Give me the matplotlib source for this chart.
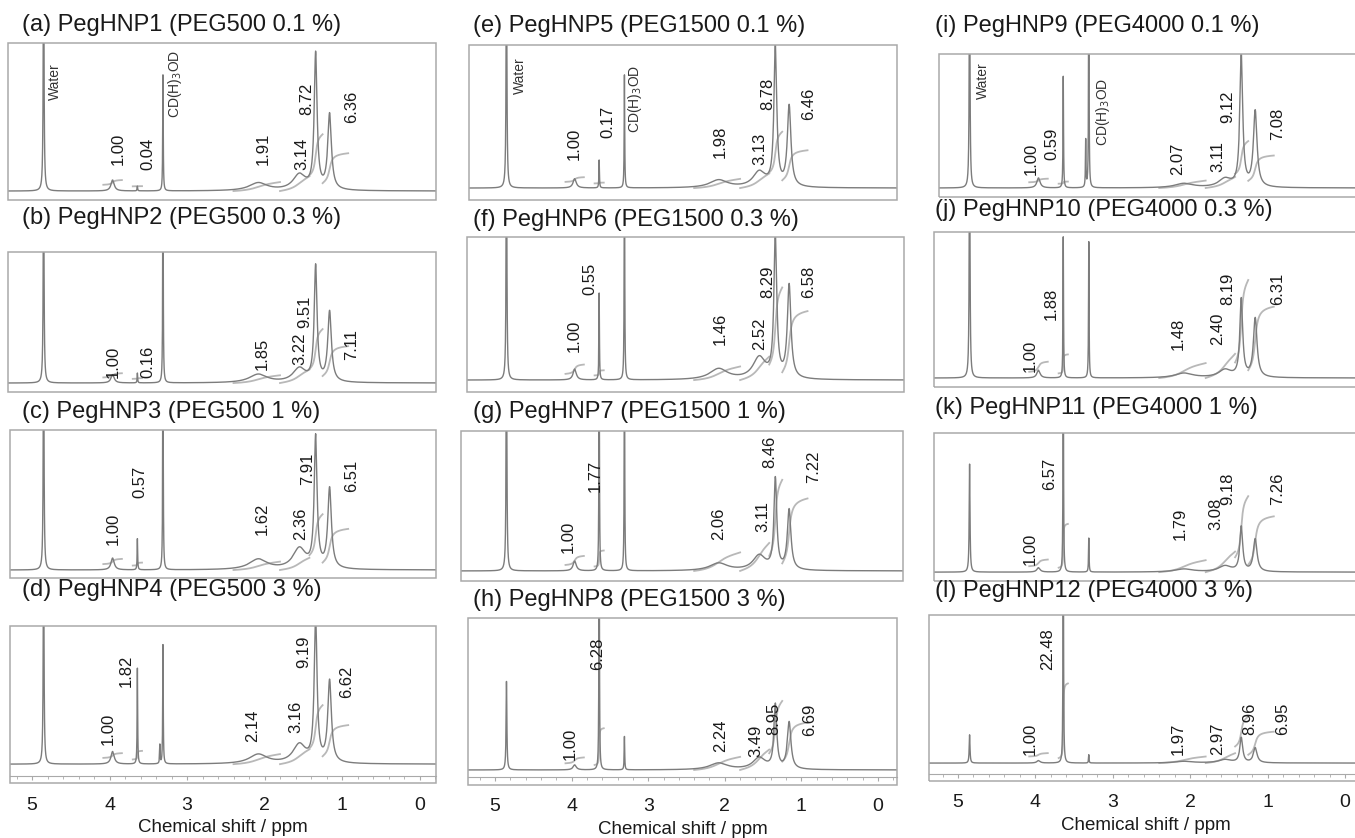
import numpy as np
import matplotlib.pyplot as plt
from matplotlib.patches import Rectangle
from matplotlib.ticker import MultipleLocator

plt.rcParams['font.family'] = ['Liberation Sans', 'DejaVu Sans']

W, H = 1355, 838

# sample names, panel order a..l
tags = ['a', 'b', 'c', 'd', 'e', 'f', 'g', 'h', 'i', 'j', 'k', 'l']
samples = ['PegHNP1', 'PegHNP2', 'PegHNP3', 'PegHNP4', 'PegHNP5', 'PegHNP6',
           'PegHNP7', 'PegHNP8', 'PegHNP9', 'PegHNP10', 'PegHNP11', 'PegHNP12']
peg_type = ['PEG500'] * 4 + ['PEG1500'] * 4 + ['PEG4000'] * 4
peg_conc = ['0.1', '0.3', '1', '3'] * 3

# integrals (relative to the 3.96 ppm signal)
int_nh = [1.00] * 12
int_peg = [0.04, 0.16, 0.57, 1.82, 0.17, 0.55, 1.77, 6.28, 0.59, 1.88, 6.57, 22.48]
int_b1 = [1.91, 1.85, 1.62, 2.14, 1.98, 1.46, 2.06, 2.24, 2.07, 1.48, 1.79, 1.97]
int_b2 = [3.14, 3.22, 2.36, 3.16, 3.13, 2.52, 3.11, 3.49, 3.11, 2.40, 3.08, 2.97]
int_me1 = [8.72, 9.51, 7.91, 9.19, 8.78, 8.29, 8.46, 8.95, 9.12, 8.19, 9.18, 8.96]
int_me2 = [6.36, 7.11, 6.51, 6.62, 6.46, 6.58, 7.22, 6.69, 7.08, 6.31, 7.26, 6.95]

# signals: position / ppm and half width
peak_ppm = [4.85, 3.96, 3.64, 3.35, 3.31, 2.08, 1.55, 1.34, 1.16]
peak_hw = [0.006, 0.025, 0.004, 0.004, 0.004, 0.14, 0.10, 0.022, 0.028]

# peak heights (fraction of the frame height)
h_water = [1.6, 1.6, 1.6, 1.4, 1.6, 1.6, 1.6, 0.53, 1.6, 1.6, 0.73, 0.17]
h_nh = [0.07, 0.06, 0.08, 0.08, 0.06, 0.07, 0.065, 0.03, 0.07, 0.05, 0.03, 0.015]
h_peg = [0.03, 0.07, 0.21, 0.61, 0.18, 0.56, 1.6, 1.6, 0.78, 0.91, 1.6, 1.6]
h_meoh = [0, 0, 0, 0.12, 0, 0, 0, 0, 0.33, 0, 0, 0]
h_cd3od = [0.74, 1.6, 1.6, 0.76, 0.73, 1.6, 1.6, 0.2, 1.6, 0.88, 0.23, 0.05]
h_b1 = [0.05, 0.06, 0.07, 0.06, 0.05, 0.07, 0.05, 0.04, 0.03, 0.03, 0.02, 0.01]
h_b2 = [0.10, 0.10, 0.14, 0.12, 0.10, 0.14, 0.10, 0.07, 0.06, 0.05, 0.04, 0.02]
h_me1 = [0.86, 0.82, 0.88, 0.90, 0.90, 0.92, 0.60, 0.38, 0.92, 0.50, 0.30, 0.15]
h_me2 = [0.48, 0.50, 0.54, 0.52, 0.52, 0.60, 0.40, 0.28, 0.53, 0.38, 0.22, 0.09]

# frame of each panel in pixels: left, top, right, bottom
boxes = [(8, 43, 436, 200), (8, 252, 436, 392), (10, 430, 436, 578), (10, 626, 436, 783),
         (469, 45, 897, 200), (467, 237, 904, 392), (461, 431, 903, 581), (468, 618, 897, 785),
         (939, 54, 1362, 197), (934, 232, 1362, 387), (934, 433, 1362, 581), (929, 615, 1362, 781)]
# ppm scale of each column: pixel of 0 ppm, pixels per ppm
col_scale = [(419.5, 77.5), (878.0, 76.6), (1345.0, 77.4)]
base = [0.057, 0.064, 0.054, 0.12, 0.077, 0.077, 0.067, 0.09, 0.063, 0.058, 0.06, 0.108]
int_k = [0.03, 0.03, 0.035, 0.03, 0.03, 0.06, 0.06, 0.035, 0.025, 0.065, 0.045, 0.02]
title_xy = [(22, 25), (22, 218), (22, 412), (22, 590),
            (473, 26), (473, 220), (473, 412), (473, 600),
            (935, 26), (935, 210), (935, 408), (935, 591)]

# label positions: ppm, frame fraction of the text bottom
lab_x = [[3.89, 3.50, 2.01, 1.52, 1.45, 0.88], [3.95, 3.50, 2.03, 1.54, 1.48, 0.87],
         [3.95, 3.61, 2.03, 1.54, 1.45, 0.87], [4.02, 3.79, 2.15, 1.59, 1.49, 0.94],
         [3.96, 3.52, 2.06, 1.54, 1.44, 0.91], [3.96, 3.76, 2.06, 1.54, 1.44, 0.91],
         [4.05, 3.69, 2.08, 1.50, 1.41, 0.84], [4.02, 3.66, 2.06, 1.60, 1.36, 0.89],
         [4.06, 3.79, 2.16, 1.64, 1.51, 0.87], [4.07, 3.79, 2.16, 1.64, 1.51, 0.87],
         [4.07, 3.81, 2.13, 1.67, 1.51, 0.87], [4.07, 3.84, 2.16, 1.64, 1.23, 0.81]]
lab_y = [[0.223, 0.191, 0.223, 0.191, 0.541, 0.49], [0.10, 0.10, 0.157, 0.193, 0.457, 0.229],
         [0.223, 0.54, 0.29, 0.257, 0.628, 0.58], [0.242, 0.611, 0.261, 0.318, 0.732, 0.541],
         [0.258, 0.40, 0.271, 0.226, 0.58, 0.516], [0.258, 0.626, 0.303, 0.271, 0.606, 0.606],
         [0.187, 0.593, 0.273, 0.327, 0.753, 0.653], [0.15, 0.689, 0.198, 0.17, 0.30, 0.293],
         [0.154, 0.259, 0.154, 0.175, 0.517, 0.399], [0.097, 0.432, 0.239, 0.271, 0.529, 0.529],
         [0.108, 0.615, 0.277, 0.345, 0.514, 0.514], [0.157, 0.669, 0.157, 0.157, 0.277, 0.277]]
int_regions = [(4.08, 3.84), (3.70, 3.58), (2.40, 1.80), (1.80, 1.42), (1.42, 1.25), (1.25, 0.92)]
int_start = [0.04, 0.03, 0.0, 0.0, 0.1, 0.05]
# solvent labels on the top row: ppm, frame fraction of the text top
water_lab = {0: (4.70, 0.87), 4: (4.67, 0.92), 8: (4.68, 0.94)}
cd_lab = {0: (3.15, 0.955), 4: (3.17, 0.87), 8: (3.13, 0.83)}

spec_color = '#7c7c7c'
int_color = '#b8b8b8'
frame_color = '#a9a9a9'

ppm = np.linspace(-0.5, 5.6, 14000)
heights = [h_water, h_nh, h_peg, h_meoh, h_cd3od, h_b1, h_b2, h_me1, h_me2]
int_vals = [int_nh, int_peg, int_b1, int_b2, int_me1, int_me2]

fig = plt.figure(figsize=(W / 100, H / 100), dpi=100)

for i in range(12):
    l, t, r, b = boxes[i]
    col = i // 4
    x0, sc = col_scale[col]
    ax = fig.add_axes([l / W, 1 - b / H, (r - l) / W, (b - t) / H])
    ax.set_xlim((x0 - l) / sc, (x0 - r) / sc)
    ax.set_ylim(-base[i], 1 - base[i])

    spec = np.zeros_like(ppm)
    for pos, hw, hh in zip(peak_ppm, peak_hw, heights):
        spec += hh[i] * hw ** 2 / ((ppm - pos) ** 2 + hw ** 2)
    ax.plot(ppm, spec, color=spec_color, lw=1.0, zorder=3)

    # integral curves, rising from high to low ppm
    for (hi, lo), start, vals in zip(int_regions, int_start, int_vals):
        m = (ppm <= hi) & (ppm >= lo)
        xs = ppm[m][::-1]
        cum = np.cumsum(spec[m][::-1])
        cum = cum / cum[-1]
        ys = start + int_k[i] * vals[i] * cum
        ax.plot(xs, ys, color=int_color, lw=1.3, zorder=2)

    for j, vals in enumerate(int_vals):
        ax.text(lab_x[i][j], lab_y[i][j] - base[i], f'{vals[i]:.2f}', rotation=90,
                ha='center', va='bottom', fontsize=12, color='#1a1a1a')

    if i in water_lab:
        wx, wy = water_lab[i]
        ax.text(wx, wy - base[i], 'Water', rotation=90, ha='center', va='top',
                fontsize=10, color='#333333')
        cx, cy = cd_lab[i]
        ax.text(cx, cy - base[i], 'CD(H)$_3$OD', rotation=90, ha='center', va='top',
                fontsize=10, color='#333333')

    for s in ax.spines.values():
        s.set_visible(False)
    ax.add_patch(Rectangle((0, 0), 1, 1, transform=ax.transAxes, fill=False,
                           ec=frame_color, lw=1.1, clip_on=False, zorder=5))
    ax.set_yticks([])
    if i % 4 == 3:
        ax.spines['bottom'].set_visible(True)
        ax.spines['bottom'].set_position(('axes', 0.045))
        ax.spines['bottom'].set_color(frame_color)
        ax.set_xticks(range(0, 6))
        ax.xaxis.set_minor_locator(MultipleLocator(0.2))
        ax.tick_params(axis='x', which='major', length=3, color=frame_color,
                       labelsize=14, pad=12, labelcolor='#1a1a1a')
        ax.tick_params(axis='x', which='minor', length=2, color=frame_color)
        ax.set_xlabel('Chemical shift / ppm', fontsize=13.5, labelpad=4, color='#1a1a1a')
    else:
        ax.set_xticks([])

    tx, ty = title_xy[i]
    fig.text(tx / W, 1 - ty / H, f'({tags[i]}) {samples[i]} ({peg_type[i]} {peg_conc[i]} %)',
             fontsize=17, va='center', ha='left', color='#1a1a1a')

fig.savefig('out.png', dpi=100)
